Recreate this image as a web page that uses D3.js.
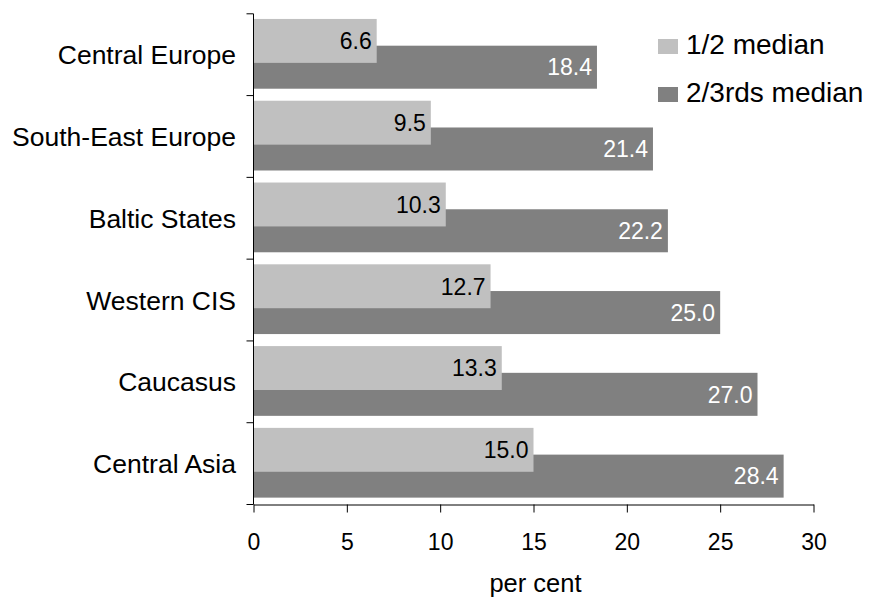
<!DOCTYPE html>
<html><head><meta charset="utf-8">
<script src="https://cdn.jsdelivr.net/npm/d3@7"></script>
<style>body{margin:0;background:#fff}svg{display:block;font-family:"Liberation Sans",Arial,sans-serif}</style>
</head><body>
<svg id="c" width="873" height="597"></svg>
<script>
const categories = ["Central Europe","South-East Europe","Baltic States","Western CIS ","Caucasus","Central Asia"];
const halfMedian = [6.6, 9.5, 10.3, 12.7, 13.3, 15.0];
const twoThirdsMedian = [18.4, 21.4, 22.2, 25.0, 27.0, 28.4];
const seriesNames = ["1/2 median","2/3rds median"];
const xTicks = [0,5,10,15,20,25,30];
const xTitle = "per cent";

const colors = ["#c0c0c0","#808080"];
const svg = d3.select("#c");
const x = d3.scaleLinear().domain([0,30]).range([253.5,813.5]);
const y = d3.scaleBand().domain(categories).range([13.8,504.5]).padding(0);
const bw = y.bandwidth();

const g = svg.append("g");
g.selectAll(".dark").data(categories).join("rect")
  .attr("x", x(0)).attr("y", d => y(d) + bw*0.39)
  .attr("width", (d,i) => x(twoThirdsMedian[i]) - x(0))
  .attr("height", bw*0.526).attr("fill", colors[1]);
g.selectAll(".light").data(categories).join("rect")
  .attr("x", x(0)).attr("y", d => y(d) + bw*0.063)
  .attr("width", (d,i) => x(halfMedian[i]) - x(0))
  .attr("height", bw*0.537).attr("fill", colors[0]);

g.selectAll(".lv").data(categories).join("text")
  .attr("x", (d,i) => x(halfMedian[i]) - 5)
  .attr("y", d => y(d) + bw*(0.063+0.537/2))
  .attr("dy","0.36em").attr("text-anchor","end")
  .attr("font-size",23).attr("fill","#000")
  .text((d,i) => halfMedian[i].toFixed(1));
g.selectAll(".dv").data(categories).join("text")
  .attr("x", (d,i) => x(twoThirdsMedian[i]) - 5)
  .attr("y", d => y(d) + bw*(0.39+0.526/2))
  .attr("dy","0.36em").attr("text-anchor","end")
  .attr("font-size",23).attr("fill","#fff")
  .text((d,i) => twoThirdsMedian[i].toFixed(1));

const yAxis = svg.append("g");
yAxis.append("line").attr("x1",x(0)).attr("x2",x(0)).attr("y1",y.range()[0]).attr("y2",y.range()[1]).attr("stroke","#000");
const bounds = categories.map(c => y(c)).concat([y.range()[1]]);
yAxis.selectAll(".yt").data(bounds).join("line")
  .attr("x1",x(0)-7).attr("x2",x(0)).attr("y1",d=>d).attr("y2",d=>d).attr("stroke","#000");
yAxis.selectAll(".yl").data(categories).join("text")
  .attr("x", 236).attr("y", d => y(d)+bw/2).attr("dy","0.36em")
  .attr("text-anchor","end").attr("font-size",26.5).attr("fill","#000").text(d=>d);

const xAxis = svg.append("g").attr("transform",`translate(0,${y.range()[1]})`)
  .call(d3.axisBottom(x).tickValues(xTicks).tickSize(8).tickSizeOuter(0).tickPadding(21).tickFormat(d3.format("d")));
xAxis.select(".domain").attr("stroke","#000");
xAxis.selectAll(".tick line").attr("stroke","#000");
xAxis.selectAll(".tick text").attr("font-size",23).attr("fill","#000").attr("font-family","Liberation Sans, Arial, sans-serif");
svg.append("text").attr("x",(x(0)+x(30))/2 + 2).attr("y",592).attr("text-anchor","middle")
  .attr("font-size",25.5).attr("fill","#000").text(xTitle);

const leg = svg.append("g");
seriesNames.forEach((s,i) => {
  const ly = 39 + i*48;
  leg.append("rect").attr("x",658).attr("y",ly).attr("width",20).attr("height",15).attr("fill",colors[i]);
  leg.append("text").attr("x",686).attr("y",ly+15).attr("font-size",28).attr("fill","#000").text(s);
});
</script>
</body></html>
